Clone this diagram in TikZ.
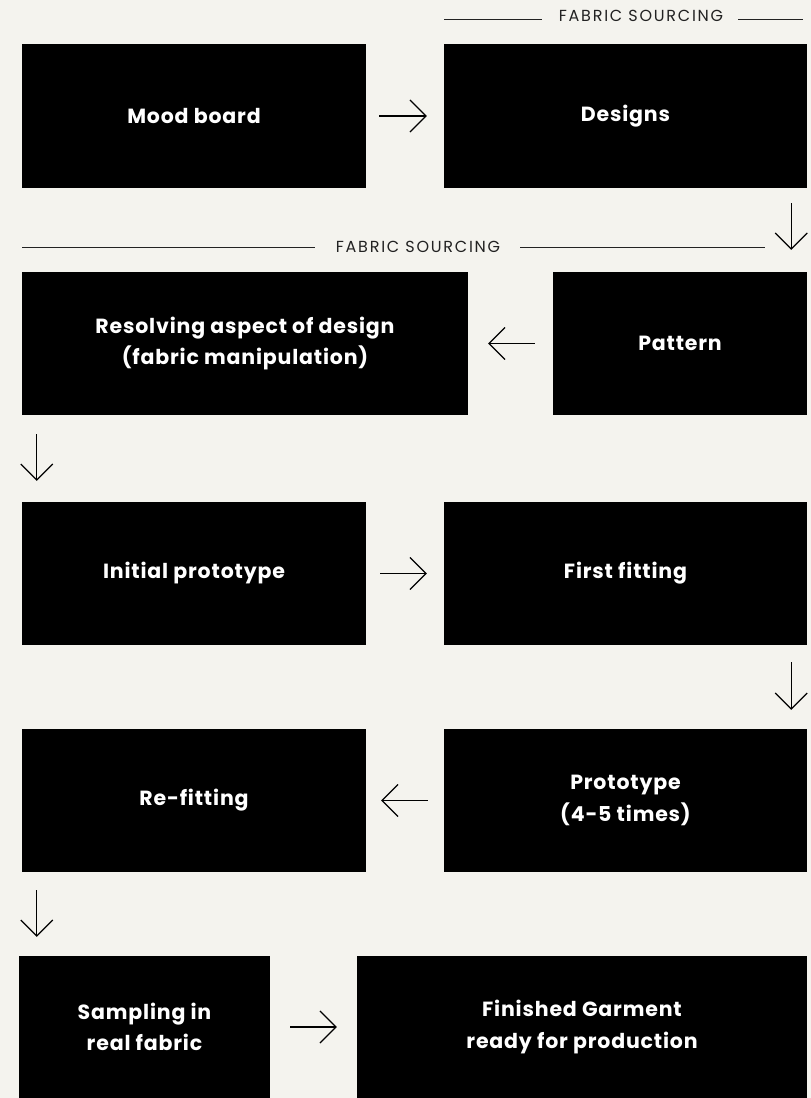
\documentclass[tikz,border=0pt]{standalone}
\usepackage{fontspec}
\setmainfont{Poppins}
\newfontfamily\labfont[LetterSpace=11]{Poppins}
\newfontfamily\boxfont[LetterSpace=4]{Poppins}
\usetikzlibrary{arrows.meta}
\definecolor{bg}{HTML}{F4F3EE}
\definecolor{labgray}{HTML}{222222}
\begin{document}
\begin{tikzpicture}[x=1pt,y=-1pt,
  box/.style={fill=black, draw=none, text=white, font=\boxfont\bfseries\fontsize{20.5}{31.5}\selectfont, align=center, inner sep=0pt},
  arr/.style={-{Straight Barb[length=16pt,width=32pt]}, line width=1.2pt, black},
  fabline/.style={line width=0.9pt, labgray},
  lab/.style={font=\labfont\fontsize{16}{18}\selectfont, text=labgray, inner sep=0pt, anchor=base}]
\fill[bg] (0,0) rectangle (811,1098);
\useasboundingbox (0,0) rectangle (811,1098);

\node[box, minimum width=344pt, minimum height=144pt] (mood) at (194,116) {Mood board};
\node[box, minimum width=363pt, minimum height=144pt] (designs) at (625.5,116) {Designs};
\node[box, minimum width=446pt, minimum height=143pt] (resolve) at (245,343.5) {Resolving aspect of design\\(fabric manipulation)};
\node[box, minimum width=254pt, minimum height=143pt] (pattern) at (680,343.5) {Pattern};
\node[box, minimum width=344pt, minimum height=143pt] (initial) at (194,573.5) {Initial prototype};
\node[box, minimum width=363pt, minimum height=143pt] (first) at (625.5,573.5) {First fitting};
\node[box, minimum width=344pt, minimum height=143pt] (refit) at (194,800.5) {Re-fitting};
\node[box, minimum width=363pt, minimum height=143pt] (proto) at (625.5,800.5) {Prototype\\(4-5 times)};
\node[box, minimum width=251pt, minimum height=142pt] (sampling) at (144.5,1027) {Sampling in\\real fabric};
\node[box, minimum width=450pt, minimum height=142pt] (finished) at (582,1027) {Finished Garment\\ready for production};

% fabric sourcing labels
\node[lab] (fs1) at (641,21) {FABRIC SOURCING};
\coordinate (fs1a) at (444,19);
\coordinate (fs1b) at (542,19);
\coordinate (fs1c) at (738,19);
\coordinate (fs1d) at (803,19);
\draw[fabline] (fs1a) -- (fs1b);
\draw[fabline] (fs1c) -- (fs1d);

\node[lab] (fs2) at (418,252) {FABRIC SOURCING};
\coordinate (fs2a) at (22,247);
\coordinate (fs2b) at (315,247);
\coordinate (fs2c) at (520,247);
\coordinate (fs2d) at (765,247);
\draw[fabline] (fs2a) -- (fs2b);
\draw[fabline] (fs2c) -- (fs2d);

% horizontal arrows
\draw[arr, shorten <=13pt, shorten >=17pt] (mood) -- (designs);
\draw[arr, shorten <=18pt, shorten >=20pt] (pattern) -- (resolve);
\draw[arr, shorten <=14pt, shorten >=17pt] (initial) -- (first);
\draw[arr, shorten <=16pt, shorten >=15pt] (proto) -- (refit);
\draw[arr, shorten <=20pt, shorten >=20pt] (sampling) -- (finished);

% vertical arrows
\draw[arr] ([xshift=-16pt,yshift=-15pt]designs.south east) -- ([xshift=-16pt,yshift=22pt]pattern.north east);
\draw[arr] ([xshift=15pt,yshift=-19pt]resolve.south west) -- ([xshift=15pt,yshift=21pt]initial.north west);
\draw[arr] ([xshift=-16pt,yshift=-17pt]first.south east) -- ([xshift=-16pt,yshift=19pt]proto.north east);
\draw[arr] ([xshift=15pt,yshift=-18pt]refit.south west) -- ([xshift=18pt,yshift=19pt]sampling.north west);
\end{tikzpicture}
\end{document}
